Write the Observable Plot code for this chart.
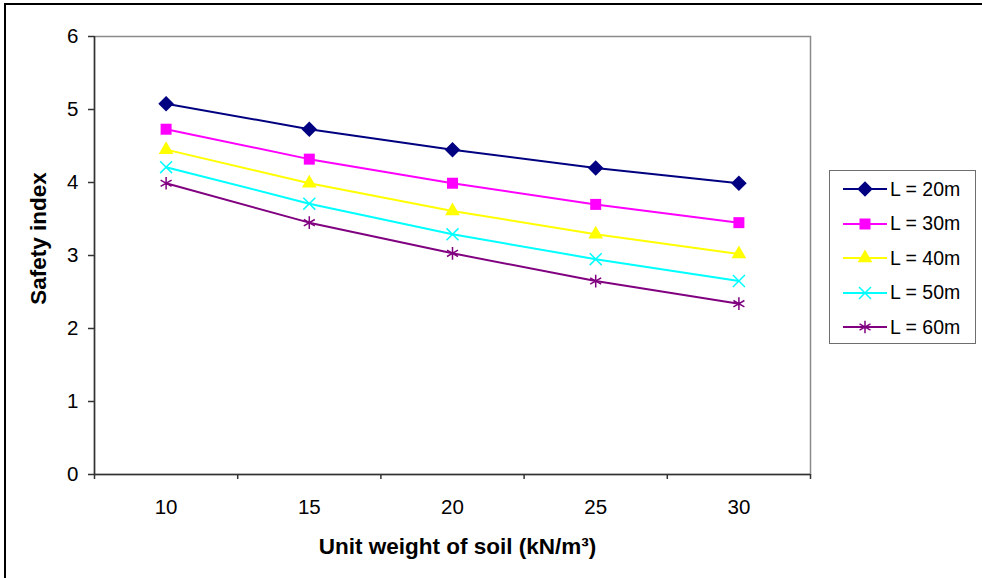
<!DOCTYPE html>
<html>
<head>
<meta charset="utf-8">
<script src="https://cdn.jsdelivr.net/npm/d3@7"></script>
<script src="https://cdn.jsdelivr.net/npm/@observablehq/plot@0.6"></script>
<style>
  html, body { margin: 0; padding: 0; background: #fff; }
  #wrap { position: relative; width: 982px; height: 578px; overflow: hidden; font-family: "Liberation Sans", Arial, sans-serif; }
  #frameL { position: absolute; left: 4px; top: 3px; width: 1.5px; height: 578px; background: #000; }
  #frameT { position: absolute; left: 4px; top: 3px; width: 978px; height: 1.5px; background: #000; }
  #chart { position: absolute; left: 0; top: 0; }
  #legend { position: absolute; left: 829px; top: 170px; width: 147px; height: 174px; border: 1.5px solid #6e6e6e; box-sizing: border-box; background: #fff; }
  .item { position: absolute; left: 12px; height: 20px; display: flex; align-items: center; font-size: 19.5px; color: #000; }
  .item span { margin-left: 2px; }
</style>
</head>
<body>
<div id="wrap">
  <div id="frameL"></div>
  <div id="frameT"></div>
  <div id="chart"></div>
  <div id="legend"></div>
</div>
<script>
const unitWeight = [10, 15, 20, 25, 30];
const seriesNames = ["L = 20m", "L = 30m", "L = 40m", "L = 50m", "L = 60m"];
const L20 = [5.08, 4.73, 4.45, 4.20, 3.99];
const L30 = [4.73, 4.32, 3.99, 3.70, 3.45];
const L40 = [4.45, 3.99, 3.61, 3.29, 3.02];
const L50 = [4.21, 3.71, 3.29, 2.95, 2.65];
const L60 = [3.99, 3.45, 3.03, 2.65, 2.34];
const seriesColors = ["#000080", "#FF00FF", "#FFFF00", "#00FFFF", "#800080"];
const seriesSymbols = ["diamond2", "square2", "triangle2", "times", "asterisk"];
const yTicks = [0, 1, 2, 3, 4, 5, 6];
const xBoundaries = [7.5, 12.5, 17.5, 22.5, 27.5, 32.5];

const allSeries = [L20, L30, L40, L50, L60];
const data = [];
allSeries.forEach((vals, i) => vals.forEach((v, j) => data.push({series: seriesNames[i], x: unitWeight[j], y: v})));

const filled = s => s === "diamond2" || s === "square2" || s === "triangle2";
const symR = {diamond2: 7, square2: 7, triangle2: 7, times: 5.5, asterisk: 6};

const marks = [
  Plot.frame({stroke: "#8a8a8a", strokeWidth: 1.5}),
  Plot.axisY({ticks: yTicks, tickSize: 6, tickPadding: 10, tickFormat: d => String(d), label: null, stroke: "#333", strokeWidth: 1.5, fontSize: 20.5}),
  Plot.axisX({ticks: xBoundaries, tickSize: 5, tickFormat: () => "", label: null, stroke: "#333", strokeWidth: 1.5}),
  Plot.axisX({ticks: unitWeight, tickSize: 0, tickPadding: 25, label: null, fontSize: 20.5}),
  Plot.ruleX([7.5], {stroke: "#333", strokeWidth: 1.5}),
  Plot.ruleY([0], {stroke: "#333", strokeWidth: 1.5}),
  Plot.text(["Safety index"], {frameAnchor: "left", textAnchor: "middle", dx: -56, dy: -17, rotate: -90, fontWeight: "bold", fontSize: 22.5}),
  Plot.text(["Unit weight of soil (kN/m³)"], {frameAnchor: "bottom", dx: 5, dy: 79, fontWeight: "bold", fontSize: 22.5})
];
seriesNames.forEach((name, i) => {
  const d = data.filter(r => r.series === name);
  marks.push(Plot.line(d, {x: "x", y: "y", stroke: seriesColors[i], strokeWidth: 2}));
});
seriesNames.forEach((name, i) => {
  const d = data.filter(r => r.series === name);
  const sym = seriesSymbols[i];
  marks.push(Plot.dot(d, filled(sym)
    ? {x: "x", y: "y", symbol: () => sym, fill: seriesColors[i], r: symR[sym], stroke: "none"}
    : {x: "x", y: "y", symbol: () => sym, stroke: seriesColors[i], r: symR[sym], strokeWidth: 1.5}));
});

const chart = Plot.plot({
  width: 982, height: 578,
  marginLeft: 94, marginRight: 172, marginTop: 36, marginBottom: 104,
  x: {domain: [7.5, 32.5]},
  y: {domain: [0, 6]},
  symbol: {type: "identity"},
  style: {fontFamily: "'Liberation Sans', Arial, sans-serif", fontSize: "20px", color: "#000", background: "transparent"},
  marks
});
document.getElementById("chart").appendChild(chart);

// Legend
const legend = document.getElementById("legend");
const symMap = {diamond2: d3.symbolDiamond2, square2: d3.symbolSquare2, triangle2: d3.symbolTriangle2, times: d3.symbolTimes, asterisk: d3.symbolAsterisk};
seriesNames.forEach((name, i) => {
  const item = document.createElement("div");
  item.className = "item";
  item.style.top = (8 + i * 34.5) + "px";
  const sym = seriesSymbols[i];
  const size = Math.PI * symR[sym] * symR[sym];
  const path = d3.symbol(symMap[sym], size)();
  const isFilled = filled(sym);
  item.innerHTML = `<svg width="46" height="20"><line x1="1" x2="45" y1="10" y2="10" stroke="${seriesColors[i]}" stroke-width="2"/>` +
    `<path transform="translate(23,10)" d="${path}" fill="${isFilled ? seriesColors[i] : "none"}" stroke="${isFilled ? "none" : seriesColors[i]}" stroke-width="1.5"/></svg><span>${name}</span>`;
  legend.appendChild(item);
});
</script>
</body>
</html>
